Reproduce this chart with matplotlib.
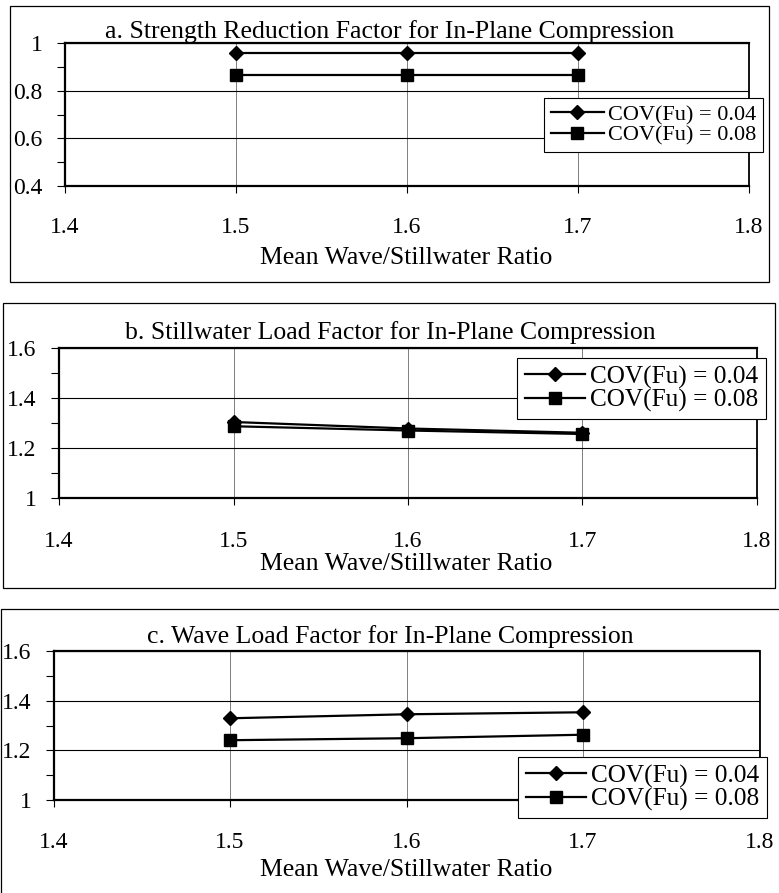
import matplotlib
matplotlib.use("Agg")
import matplotlib.pyplot as plt
from matplotlib.patches import Rectangle
from matplotlib.ticker import MultipleLocator, FixedLocator

plt.rcParams['font.family'] = ['Liberation Serif', 'DejaVu Serif']

# ---- data ----
ratio = [1.5, 1.6, 1.7]
series_labels = ["COV(Fu) = 0.04", "COV(Fu) = 0.08"]
strength_004 = [0.96, 0.96, 0.96]
strength_008 = [0.866, 0.866, 0.866]
still_004 = [1.304, 1.278, 1.261]
still_008 = [1.287, 1.270, 1.256]
wave_004 = [1.329, 1.345, 1.353]
wave_008 = [1.241, 1.249, 1.263]

titles = ["a. Strength Reduction Factor for In-Plane Compression",
          "b. Stillwater Load Factor for In-Plane Compression",
          "c. Wave Load Factor for In-Plane Compression"]
xlabel = "Mean Wave/Stillwater Ratio"
xticks = [1.4, 1.5, 1.6, 1.7, 1.8]

W, H = 779, 893
fig = plt.figure(figsize=(W / 100, H / 100), dpi=100)


def fx(px):
    return px / W


def fy(py):
    return 1 - py / H


# outer panel boxes (pixel coords: left, top, right, bottom)
boxes = [(10, 6, 769, 282), (3, 303, 775, 588), (1, 609, 790, 905)]
for (l, t, r, b) in boxes:
    fig.add_artist(Rectangle((fx(l), fy(b)), fx(r) - fx(l), fy(t) - fy(b),
                             transform=fig.transFigure, fill=False,
                             edgecolor='black', lw=0.9))

panels = [
    dict(ax=(65, 43, 749, 186), ylim=(0.4, 1.0),
         s1=strength_004, s2=strength_008,
         title_y=32, tick_pad=17, xlabel_y=258,
         leg=(544, 98), leg_fs=16),
    dict(ax=(59, 348, 757, 498), ylim=(1.0, 1.6),
         s1=still_004, s2=still_008,
         title_y=333, tick_pad=19, xlabel_y=564,
         leg=(517, 358), leg_fs=18.2),
    dict(ax=(53.6, 650.7, 759.5, 800.3), ylim=(1.0, 1.6),
         s1=wave_004, s2=wave_008,
         title_y=637, tick_pad=18, xlabel_y=870,
         leg=(518, 757), leg_fs=18.2),
]

for i, p in enumerate(panels):
    l, t, r, b = p['ax']
    ax = fig.add_axes([fx(l), fy(b), fx(r) - fx(l), fy(t) - fy(b)])
    ax.set_xlim(1.4, 1.8)
    ax.set_ylim(*p['ylim'])
    ax.xaxis.set_major_locator(FixedLocator(xticks))
    ax.set_xticklabels(["%g" % v for v in xticks])
    ax.yaxis.set_major_locator(MultipleLocator(0.2))
    ax.yaxis.set_minor_locator(MultipleLocator(0.1))
    ax.yaxis.set_major_formatter(plt.FuncFormatter(lambda v, pos: "%g" % round(v, 3)))

    ax.grid(True, axis='y', which='major', color='black', lw=0.8, zorder=0)
    ax.grid(True, axis='x', which='major', color='#7f7f7f', lw=0.7, zorder=0)
    ax.set_axisbelow(True)
    for s in ['left', 'top', 'bottom']:
        ax.spines[s].set_linewidth(1.6)
    ax.spines['right'].set_linewidth(1.3)

    ax.tick_params(axis='x', direction='out', length=5, width=0.8,
                   labelsize=17, pad=p['tick_pad'])
    ax.tick_params(axis='y', which='major', direction='out', length=6, width=0.8,
                   labelsize=17, pad=10)
    ax.tick_params(axis='y', which='minor', direction='out', length=6, width=0.8)

    ax.plot(ratio, p['s1'], color='black', lw=1.6, marker='D', ms=7.2,
            label=series_labels[0], zorder=3, clip_on=False)
    ax.plot(ratio, p['s2'], color='black', lw=1.6, marker='s', ms=9.2,
            label=series_labels[1], zorder=3, clip_on=False)

    lx, ly = p['leg']
    leg = ax.legend(loc='upper left', bbox_to_anchor=(fx(lx), fy(ly)),
                    bbox_transform=fig.transFigure, borderaxespad=0,
                    fontsize=p['leg_fs'], frameon=True, fancybox=False,
                    framealpha=1, edgecolor='black', handlelength=2.4,
                    handletextpad=0.2, labelspacing=0.0, borderpad=0.3)
    leg.get_frame().set_linewidth(0.8)
    leg.set_zorder(5)

    fig.text(fx(390), fy(p['title_y']), titles[i], ha='center', va='center',
             fontsize=18.5)
    fig.text(fx(406), fy(p['xlabel_y']), xlabel, ha='center', va='center',
             fontsize=18.5)

fig.savefig("out.png", dpi=100)
